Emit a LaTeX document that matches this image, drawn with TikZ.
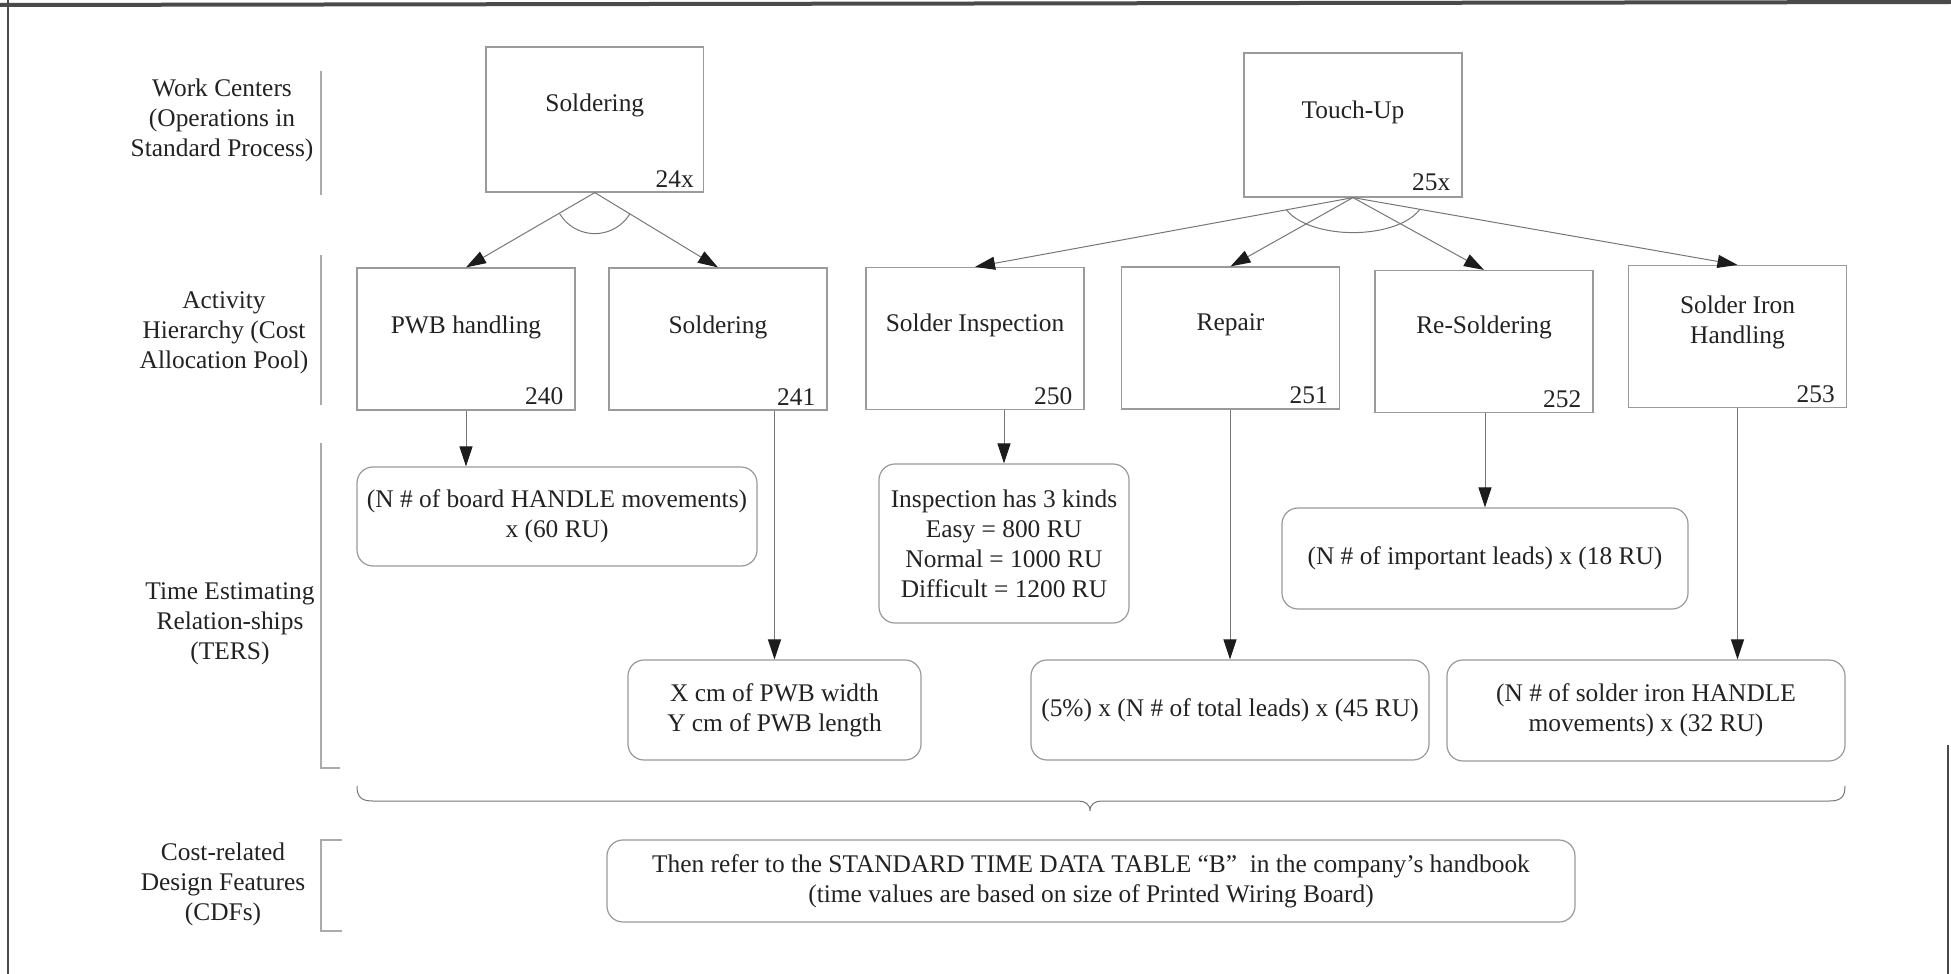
\documentclass[tikz,border=0pt]{standalone}
\usepackage{fontspec}
\setmainfont{Liberation Serif}
\usetikzlibrary{arrows.meta}
\definecolor{txt}{HTML}{222222}
\definecolor{boxline}{HTML}{9A9A9A}
\definecolor{connc}{HTML}{767676}
\definecolor{tipc}{HTML}{1C1C1C}
\definecolor{brk}{HTML}{ABABAB}
\definecolor{frame}{HTML}{4A4A4A}
\begin{document}
\begin{tikzpicture}[x=0.5pt,y=-0.5pt,
  every node/.style={text=txt, font=\fontsize{12.7}{15}\selectfont},
  abox/.style={draw=boxline, line width=0.6pt, minimum width=109pt, minimum height=71pt, inner sep=0pt},
  tbox/.style={draw=boxline, line width=0.6pt, rounded corners=8pt, inner sep=0pt, align=center},
  lbl/.style={align=center, inner sep=0pt},
  num/.style={anchor=east, inner sep=0pt},
  connline/.style={draw=connc, line width=0.5pt},
  arr/.style={connline, -{Triangle[length=10pt,width=6.5pt,color=tipc]}},
  brkline/.style={draw=brk, line width=0.6pt}
]
\useasboundingbox (0,0) rectangle (1951,974);
% frame
\draw[frame, line width=2pt] (0,5) -- (1951,2);
\draw[frame, line width=0.8pt] (8,0) -- (8,974);
\draw[frame, line width=0.8pt] (1948,745) -- (1948,974);

% left labels
\node[lbl] (lwc) at (222,120) {Work Centers\\(Operations in\\Standard Process)};
\node[lbl] (lah) at (224,333) {Activity\\Hierarchy (Cost\\Allocation Pool)};
\node[lbl] (lter) at (230,624) {Time Estimating\\Relation-ships\\(TERS)};
\node[lbl] (lcdf) at (223,884) {Cost-related\\Design Features\\(CDFs)};
\draw[brkline] (321,71) -- (321,195);
\draw[brkline] (321,255) -- (321,405);
\draw[brkline] (321,443) -- (321,768) -- (340,768);
\draw[brkline] (342,840) -- (321,840) -- (321,931) -- (342,931);

% work centers
\node[abox, minimum width=108.8pt, minimum height=72.5pt] (wsold) at (594.8,119.5) {};
\node[lbl] (lwsold) at (594.8,105) {Soldering};
\node[num] (n24) at ([xshift=-5pt,yshift=7pt]wsold.south east) {24x};
\node[abox, minimum height=72pt] (wtouch) at (1353,125) {};
\node[lbl] (lwtouch) at (1353,112) {Touch-Up};
\node[num] (n25) at ([xshift=-6pt,yshift=7.5pt]wtouch.south east) {25x};

% activity boxes
\node[abox] (b240) at (466,339) {};
\node[abox] (b241) at (718,339) {};
\node[abox] (b250) at (975,338.5) {};
\node[abox] (b251) at (1230.5,338) {};
\node[abox] (b252) at (1484,341.5) {};
\node[abox] (b253) at (1737.5,336.5) {};
\node[lbl] (l240) at (466,327) {PWB handling};
\node[lbl] (l241) at (718,327) {Soldering};
\node[lbl] (l250) at (975,325) {Solder Inspection};
\node[lbl] (l251) at (1230.5,325) {Repair};
\node[lbl] (l252) at (1484,327) {Re-Soldering};
\node[lbl] (l253) at (1737.5,322) {Solder Iron\\Handling};
\foreach \b in {240,241,250,251,252,253}{
  \node[num] (n\b) at ([xshift=-6pt,yshift=7pt]b\b.south east) {\b};
}

% TER boxes
\node[tbox, minimum width=200pt, minimum height=49.5pt] (t240) at (557,516.5)
  {(N \# of board HANDLE movements)\\x (60 RU)};
\node[tbox, minimum width=146.5pt, minimum height=50pt] (t241) at (774.5,710)
  {X cm of PWB width\\Y cm of PWB length};
\node[tbox, minimum width=125pt, minimum height=79.5pt] (t250) at (1004,543.5)
  {Inspection has 3 kinds\\Easy = 800 RU\\Normal = 1000 RU\\Difficult = 1200 RU};
\node[tbox, minimum width=199pt, minimum height=50pt] (t251) at (1230,710)
  {(5\%) x (N \# of total leads) x (45 RU)};
\node[tbox, minimum width=203pt, minimum height=50.5pt] (t252) at (1485,558.5)
  {(N \# of important leads) x (18 RU)};
\node[tbox, minimum width=199pt, minimum height=50.5pt] (t253) at (1646,710.5)
  {(N \# of solder iron HANDLE\\movements) x (32 RU)};

% CDF box
\node[tbox, minimum width=484pt, minimum height=41pt] (cdf) at (1091,881)
  {Then refer to the STANDARD TIME DATA TABLE “B”~ in the company’s handbook\\(time values are based on size of Printed Wiring Board)};

% brace
\coordinate (brl) at (357,786);
\coordinate (brr) at (1845,786);
\coordinate (brm) at (1090,811);
\draw[connline] (brl) .. controls (357,797) and (361,801) .. (373,801) -- (1078,801)
  .. controls (1085,801) and (1090,804) .. (brm)
  .. controls (1090,804) and (1095,801) .. (1102,801) -- (1829,801)
  .. controls (1841,801) and (1845,797) .. (brr);

% connectors from work centers
\draw[arr] (wsold.south) -- (b240.north);
\draw[arr] (wsold.south) -- (b241.north);
\draw[connline] ([shift={(211:20.5pt)}]wsold.south) arc[start angle=211, end angle=329, radius=20.5pt];
\draw[arr] (wtouch.south) -- (b250.north);
\draw[arr] (wtouch.south) -- (b251.north);
\draw[arr] (wtouch.south) -- (b252.north);
\draw[arr] (wtouch.south) -- (b253.north);
\draw[connline] ([shift={(200:35.5pt and 17.5pt)}]wtouch.south) arc[start angle=200, end angle=340, x radius=35.5pt, y radius=17.5pt];

% activity to TER
\draw[arr] (b240.south) -- (b240.south |- t240.north);
\draw[arr] (b241.south -| t241.north) -- (t241.north);
\draw[arr] (b250.south -| t250.north) -- (t250.north);
\draw[arr] (b251.south -| t251.north) -- (t251.north);
\draw[arr] (b252.south -| t252.north) -- (t252.north);
\draw[arr] (b253.south) -- (b253.south |- t253.north);
\end{tikzpicture}
\end{document}
